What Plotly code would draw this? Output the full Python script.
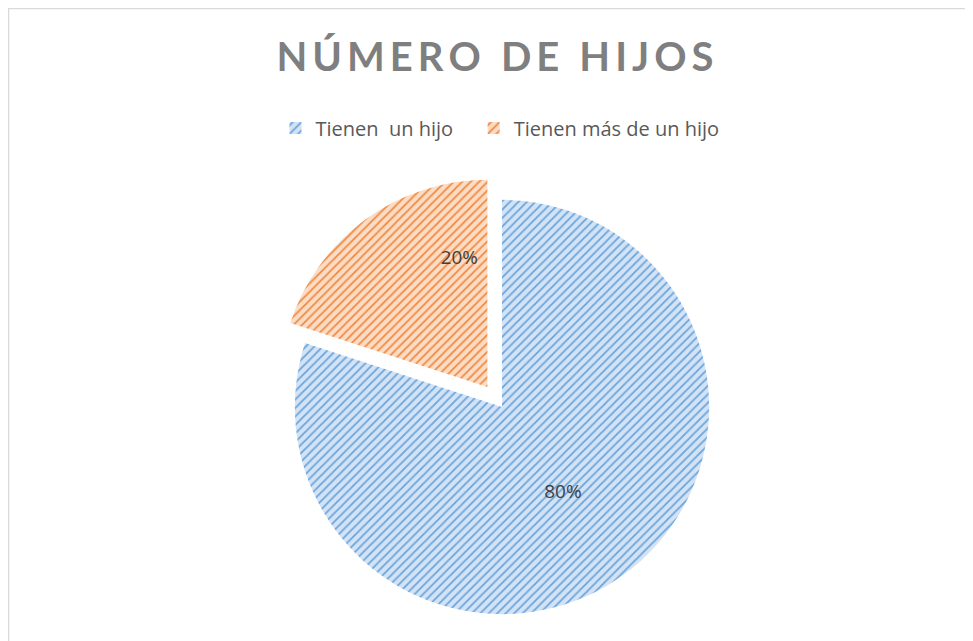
import plotly.graph_objects as go

labels = ["Tienen \u00a0un hijo\u00a0\u00a0\u00a0", "Tienen más de un hijo"]
values = [80, 20]
colors_bg = ["#d3e3f5", "#fcdcc4"]
colors_fg = ["#6aa5dc", "#f08a42"]
pulls = [0, 0.12]
text_templates = ["%{percent}", "\u2003\u2003\u2003\u2003\u2003\u2009%{percent}<br> <br> "]

W, H = 973, 641
OFF = 8  # page body offset
cx, cy = 502 - OFF, 407 - OFF
side = 464

fig = go.Figure(go.Pie(
    labels=labels,
    values=values,
    sort=False,
    direction="clockwise",
    rotation=0,
    pull=pulls,
    textinfo="percent",
    texttemplate=text_templates,
    textposition="inside",
    insidetextorientation="horizontal",
    textfont=dict(family="Open Sans, sans-serif", size=19, color="#404040"),
    marker=dict(
        colors=colors_bg,
        line=dict(color="rgba(255,255,255,0)", width=0),
        pattern=dict(shape="/", fgcolor=colors_fg, bgcolor=colors_bg, size=6, solidity=0.3),
    ),
    domain=dict(x=[(cx - side / 2) / W, (cx + side / 2) / W],
                y=[(H - cy - side / 2) / H, (H - cy + side / 2) / H]),
    hoverinfo="skip",
))

title_text = "\u2009".join(list("NÚMERO")) + "\u2002" + "\u2009".join(list("DE")) + "\u2002" + "\u2009".join(list("HIJOS"))

fig.update_layout(
    width=W, height=H,
    margin=dict(l=0, r=0, t=0, b=0),
    paper_bgcolor="white",
    plot_bgcolor="white",
    title=dict(text="<b>" + title_text + "</b>", x=(495 - OFF) / W, xanchor="center",
               y=1 - (57 - OFF) / H, yanchor="middle",
               font=dict(family="Lato, Open Sans, sans-serif", size=40, color="#7f7f7f")),
    legend=dict(orientation="h", x=(500 - OFF) / W, xanchor="center", y=1 - (128 - OFF) / H, yanchor="middle",
                font=dict(family="Open Sans, sans-serif", size=20, color="#595959"),
                bgcolor="rgba(0,0,0,0)"),
    shapes=[dict(type="rect", xref="paper", yref="paper",
                 x0=0.5 / W, x1=1.05, y0=-0.05, y1=1 - 0.5 / H,
                 line=dict(color="#d9d9d9", width=1.5), fillcolor="rgba(0,0,0,0)", layer="below")],
)

fig.write_html("out.html")
